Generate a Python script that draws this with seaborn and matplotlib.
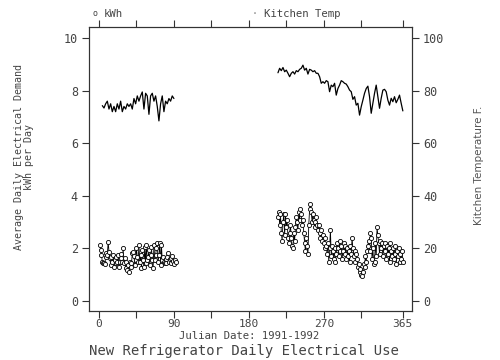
import numpy as np
import pandas as pd
import matplotlib
matplotlib.use("Agg")
import matplotlib.pyplot as plt
import seaborn as sns

# ---- data ----
kwh_days_1 = list(range(1, 93))
kwh_vals_1 = [2.13, 1.94, 1.75, 1.49, 1.43, 1.46, 1.41, 1.68, 1.81, 1.75,
              2.26, 1.88, 1.62, 1.37, 1.68, 1.49, 1.75, 1.30, 1.56, 1.68,
              1.43, 1.49, 1.75, 1.30, 1.49, 1.62, 1.79, 1.49, 2.00, 1.43,
              1.62, 1.24, 1.49, 1.18, 1.37, 1.12, 1.49, 1.30, 1.43, 1.81,
              1.88, 1.71, 1.37, 1.56, 2.00, 1.68, 1.49, 2.13, 1.49, 1.75,
              1.24, 1.94, 1.56, 1.30, 2.07, 1.43, 2.13, 1.56, 1.68, 1.94,
              1.37, 1.75, 2.07, 1.56, 1.24, 2.13, 1.56, 1.75, 2.00, 2.19,
              1.49, 1.75, 2.19, 1.37, 2.13, 1.56, 1.68, 1.49, 1.43, 1.58,
              1.43, 1.68, 1.81, 1.49, 1.58, 1.62, 1.45, 1.70, 1.52, 1.40,
              1.55, 1.48]

kwh_days_2 = list(range(215, 366))
kwh_vals_2 = [3.2, 3.4, 2.9, 3.3, 2.6, 2.3, 3.0, 3.3,
              2.5, 3.3, 2.8, 3.1, 2.4, 2.2, 2.6, 2.9, 2.4, 2.1,
              2.0, 2.6, 2.3, 2.8, 3.2, 3.0, 2.7, 3.4, 3.1, 3.5,
              3.3, 2.9, 3.1, 2.6, 2.2, 1.9, 2.4, 2.1, 1.8, 2.9,
              3.5, 3.7, 3.4, 3.0, 3.3, 3.1, 2.8, 3.0, 3.2, 2.9,
              2.7, 2.9, 2.6, 2.4, 2.7, 2.3, 2.5, 2.2, 2.4, 2.0,
              2.1, 1.8, 2.2, 1.5, 2.0, 2.7, 1.7, 2.1, 1.9, 1.6,
              2.0, 1.5, 1.8, 2.2, 2.0, 1.7, 2.3, 1.9, 2.1, 1.6,
              1.9, 2.2, 1.8, 2.1, 1.6, 2.0, 1.7, 1.9, 1.5, 2.1,
              1.8, 2.4, 2.0, 1.7, 1.9, 1.5, 1.8, 1.6, 1.3, 1.4,
              1.1, 1.2, 1.0, 0.95, 1.1, 1.4, 1.3, 1.7, 1.5, 1.9,
              2.1, 2.3, 1.9, 2.6, 2.4, 1.6, 2.0, 1.4, 1.5, 2.2,
              1.7, 2.8, 2.5, 2.2, 1.8, 2.3, 2.0, 2.2, 1.7, 2.1,
              1.9, 2.2, 1.6, 2.1, 1.8, 2.0, 1.5, 2.2, 1.9, 1.7,
              2.0, 1.6, 2.1, 1.8, 1.4, 1.9, 1.7, 2.0, 1.5, 1.8,
              1.6, 1.9, 1.5]

temp_days_1 = list(range(4, 92, 2))
temp_vals_1 = [74.3, 73.4, 75.0, 76.0, 73.0, 75.0, 72.0, 74.0, 72.0, 75.0,
               73.0, 76.0, 72.0, 74.0, 73.0, 75.0, 74.0, 75.0, 73.0, 77.0,
               75.0, 78.0, 76.0, 78.0, 79.5, 73.0, 79.0, 78.0, 71.0, 78.0,
               79.0, 76.0, 78.0, 74.0, 68.5, 75.0, 78.0, 72.0, 76.0, 75.0,
               77.0, 76.0, 78.0, 77.0]

temp_days_2 = list(range(215, 366, 2))
temp_vals_2 = [86.8, 88.5, 87.6, 88.8, 87.2, 87.8, 86.6, 85.3, 86.6, 87.2,
               86.3, 87.6, 87.2, 88.1, 88.5, 89.7, 87.8, 88.5, 86.3, 88.1,
               87.8, 87.2, 87.6, 86.6, 86.6, 85.3, 82.8, 83.4, 82.8, 83.8,
               83.4, 79.6, 82.1, 81.5, 82.8, 78.3, 80.8, 82.1, 83.8, 83.4,
               82.8, 82.5, 81.5, 80.2, 79.6, 76.7, 77.7, 74.5, 75.2, 70.7,
               73.9, 76.4, 79.0, 80.8, 81.7, 77.7, 71.4, 75.2, 79.0, 82.1,
               77.7, 73.3, 77.1, 80.2, 80.5, 79.6, 76.4, 74.5, 77.1, 75.8,
               77.7, 75.4, 76.7, 78.3, 75.2, 72.3]

x_ticks = [0, 45, 90, 135, 180, 225, 270, 315, 365]
x_tick_labels = ["0", "", "90", "", "180", "", "270", "", "365"]
kwh_ticks = [0, 2, 4, 6, 8, 10]
temp_ticks = [0, 20, 40, 60, 80, 100]

kwh = pd.DataFrame({
    "day": kwh_days_1 + kwh_days_2,
    "kwh": kwh_vals_1 + kwh_vals_2,
    "seg": [1] * len(kwh_days_1) + [2] * len(kwh_days_2),
})
temp = pd.DataFrame({
    "day": temp_days_1 + temp_days_2,
    "temp": temp_vals_1 + temp_vals_2,
    "seg": [1] * len(temp_days_1) + [2] * len(temp_days_2),
})

sns.set_style("ticks")
plt.rcParams["font.family"] = ["DejaVu Sans Mono", "DejaVu Sans"]
gray = "#444444"

fig = plt.figure(figsize=(5, 3.6), dpi=100)
ax = fig.add_axes([0.178, 0.136, 0.646, 0.789])
ax2 = ax.twinx()

sns.lineplot(data=kwh, x="day", y="kwh", units="seg", estimator=None,
             ax=ax, color="black", linewidth=0.6, marker="o",
             markersize=3.0, markerfacecolor="white",
             markeredgecolor="black", markeredgewidth=0.6)
sns.lineplot(data=temp, x="day", y="temp", units="seg", estimator=None,
             ax=ax2, color="black", linewidth=0.9)

ax.set_xlim(-12, 376)
ax.set_ylim(-0.38, 10.42)
ax2.set_ylim(-3.8, 104.2)
ax.set_xticks(x_ticks)
ax.set_xticklabels(x_tick_labels)
ax.set_yticks(kwh_ticks)
ax2.set_yticks(temp_ticks)
ax.set_xlabel("")
ax.set_ylabel("")
ax2.set_ylabel("")

for a in (ax, ax2):
    for s in a.spines.values():
        s.set_visible(True)
        s.set_color("#333333")
        s.set_linewidth(0.8)
ax.tick_params(axis="x", top=True, bottom=True, direction="out", length=5,
               width=0.8, colors="#333333", labelcolor=gray, labelsize=8, pad=0.5)
ax.tick_params(axis="y", direction="out", length=5, width=0.8,
               colors="#333333", labelcolor=gray, labelsize=8.5, pad=3)
ax2.tick_params(axis="y", direction="out", length=5, width=0.8,
                colors="#333333", labelcolor=gray, labelsize=8.5, pad=3)

# labels
fig.text(0.498, 0.066, "Julian Date: 1991-1992", ha="center", va="center",
         fontsize=7.7, color=gray)
fig.text(0.488, 0.025, "New Refrigerator Daily Electrical Use", ha="center",
         va="center", fontsize=10, color=gray)
fig.text(0.038, 0.565, "Average Daily Electrical Demand", rotation=90,
         ha="center", va="center", fontsize=7.2, color=gray)
fig.text(0.058, 0.565, "kWh per Day", rotation=90,
         ha="center", va="center", fontsize=7.2, color=gray)
fig.text(0.958, 0.54, "Kitchen Temperature F.", rotation=90, family="DejaVu Sans",
         ha="center", va="center", fontsize=7.5, color="#555555")

# legend along the top
fig.text(0.19, 0.962, "o", fontsize=6, ha="center", va="center", color=gray)
fig.text(0.207, 0.962, "kWh", fontsize=7.7, ha="left", va="center", color=gray)
fig.text(0.51, 0.962, "\u00b7", fontsize=7, ha="center", va="center", color="#888888")
fig.text(0.529, 0.962, "Kitchen Temp", fontsize=7.7, ha="left", va="center", color=gray)

plt.savefig("out.png", dpi=100)
